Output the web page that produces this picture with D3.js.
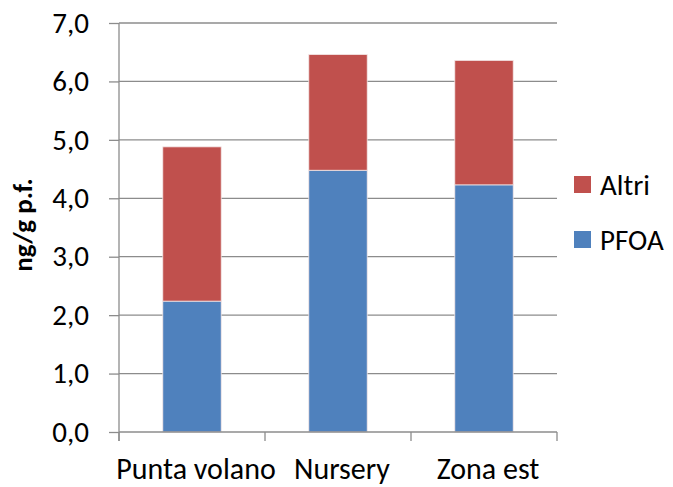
<!DOCTYPE html>
<html>
<head>
<meta charset="utf-8">
<script src="https://cdn.jsdelivr.net/npm/d3@7"></script>
<style>
  body { margin: 0; background: #fff; }
  svg { display: block; font-family: Carlito, Lato, "Liberation Sans", sans-serif; }
</style>
</head>
<body>
<svg id="chart" width="673" height="487"></svg>
<script>
const categories = ['Punta volano', 'Nursery', 'Zona est'];
const pfoa = [2.24, 4.48, 4.23];
const altri = [2.64, 1.98, 2.13];
const seriesNames = ['PFOA', 'Altri'];
const seriesColors = ['#4F81BD', '#C0504D'];
const yTicks = [0, 1, 2, 3, 4, 5, 6, 7];

const svg = d3.select('#chart');
const plot = { left: 119, right: 557, top: 23, bottom: 432 };
const fontSize = 29;

const x = d3.scaleBand().domain(categories).range([plot.left, plot.right]).paddingInner(0.6).paddingOuter(0.3);
const y = d3.scaleLinear().domain([0, 7]).range([plot.bottom, plot.top]);
const fmt = (d) => d.toFixed(1).replace('.', ',');

// gridlines
svg.append('g')
  .selectAll('line')
  .data(yTicks.slice(1))
  .enter()
  .append('line')
  .attr('x1', plot.left).attr('x2', plot.right)
  .attr('y1', (d) => y(d)).attr('y2', (d) => y(d))
  .attr('stroke', '#8c8c8c').attr('stroke-width', 1.3);

// stacked data
const rows = categories.map((c, i) => ({ cat: c, PFOA: pfoa[i], Altri: altri[i] }));
const stack = d3.stack().keys(seriesNames)(rows);

svg.append('g')
  .selectAll('g')
  .data(stack)
  .enter()
  .append('g')
  .attr('fill', (d, i) => seriesColors[i])
  .selectAll('rect')
  .data((d) => d)
  .enter()
  .append('rect')
  .attr('x', (d) => x(d.data.cat))
  .attr('width', x.bandwidth())
  .attr('y', (d) => y(d[1]))
  .attr('height', (d) => y(d[0]) - y(d[1]))
  .attr('stroke', '#f3e6e6').attr('stroke-width', 0.8);

// y axis
const yAxis = svg.append('g')
  .attr('transform', `translate(${plot.left},0)`)
  .call(d3.axisLeft(y).tickValues(yTicks).tickFormat(fmt).tickSize(10).tickPadding(20));
yAxis.select('.domain').attr('stroke', '#8c8c8c').attr('stroke-width', 1.3).attr('d', `M0,${plot.top}V${plot.bottom + 9}`);
yAxis.selectAll('.tick line').attr('stroke', '#8c8c8c').attr('stroke-width', 1.3);
yAxis.selectAll('.tick text').attr('font-size', fontSize).attr('fill', '#000').attr('font-family', 'Carlito, Lato, sans-serif');

// x axis
const xBoundaries = d3.range(categories.length + 1).map((i) => plot.left + i * (plot.right - plot.left) / categories.length);
const xg = svg.append('g');
xg.append('line')
  .attr('x1', plot.left).attr('x2', plot.right)
  .attr('y1', plot.bottom).attr('y2', plot.bottom)
  .attr('stroke', '#8c8c8c').attr('stroke-width', 1.3);
xg.selectAll('.xt')
  .data(xBoundaries)
  .enter()
  .append('line')
  .attr('x1', (d) => d).attr('x2', (d) => d)
  .attr('y1', plot.bottom).attr('y2', plot.bottom + 9)
  .attr('stroke', '#8c8c8c').attr('stroke-width', 1.3);
xg.selectAll('text')
  .data(categories)
  .enter()
  .append('text')
  .attr('x', (d) => x(d) + x.bandwidth() / 2 + 4)
  .attr('y', 479)
  .attr('text-anchor', 'middle')
  .attr('font-size', fontSize + 1)
  .text((d) => d);

// y title
svg.append('text')
  .attr('transform', 'translate(32,225) rotate(-90)')
  .attr('text-anchor', 'middle')
  .attr('font-size', 27)
  .attr('font-weight', 'bold')
  .text('ng/g p.f.');

// legend
const legend = svg.append('g')
  .selectAll('g')
  .data([1, 0])
  .enter()
  .append('g')
  .attr('transform', (d, i) => `translate(574,${176 + i * 55})`);
legend.append('rect').attr('width', 17).attr('height', 17).attr('fill', (d) => seriesColors[d]);
legend.append('text').attr('x', 26).attr('y', 19).attr('font-size', fontSize).text((d) => seriesNames[d]);
</script>
</body>
</html>
